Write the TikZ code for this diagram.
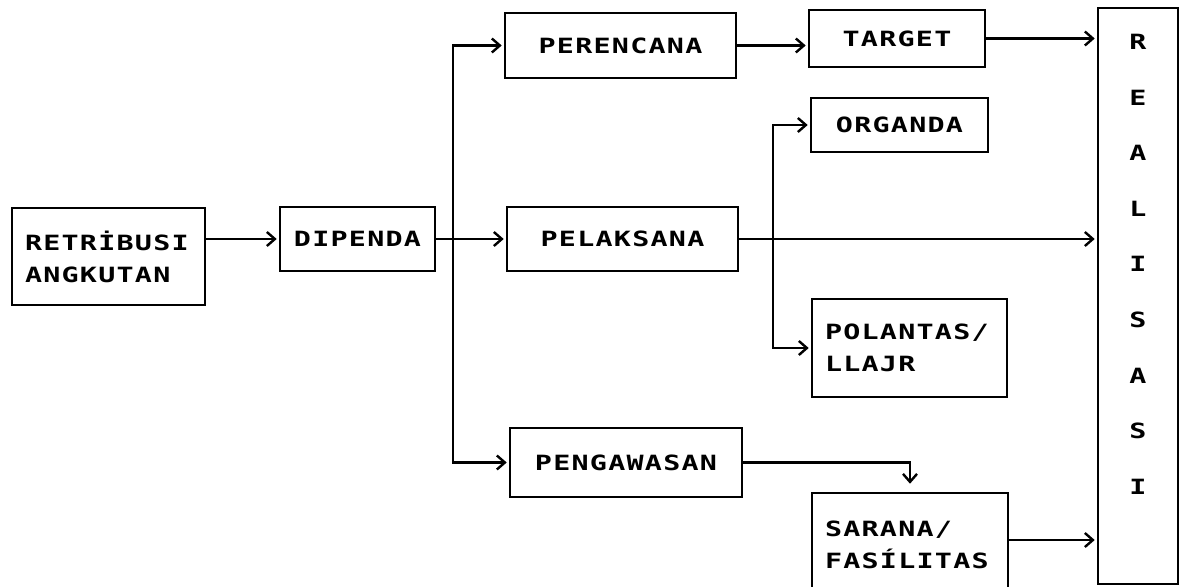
\documentclass[tikz,border=0pt]{standalone}
\usepackage{fontspec}
\usetikzlibrary{arrows.meta}
\newfontfamily\dotfont[FakeStretch=1.35,LetterSpace=6]{DejaVu Sans Mono}
\begin{document}
\begin{tikzpicture}[x=1pt,y=-1pt,
  box/.style={draw, line width=2.6pt, inner sep=0pt, font=\dotfont\bfseries\fontsize{21}{32}\selectfont},
  lab/.style={inner sep=0pt, font=\dotfont\bfseries\fontsize{21}{55.6}\selectfont},
  arr/.style={line width=2.6pt, -{Straight Barb[length=8pt,width=14pt,line width=2.4pt]}, shorten >=2pt},
  ln/.style={line width=2.6pt}]
\clip (0,0) rectangle (1188,586);
% boxes
\node[box, minimum width=193pt, minimum height=97pt, text width=167pt, align=left] (ret) at (108.5,256.5) {RETR\.IBUSI\\ANGKUTAN};
\node[box, minimum width=155pt, minimum height=64pt] (dip) at (357.5,239) {DIPENDA};
\node[box, minimum width=231pt, minimum height=65pt] (per) at (620.5,45.5) {PERENCANA};
\node[box, minimum width=231pt, minimum height=64pt] (pel) at (622.5,239) {PELAKSANA};
\node[box, minimum width=232pt, minimum height=69pt] (peng) at (626,462.5) {PENGAWASAN};
\node[box, minimum width=176pt, minimum height=57pt] (tar) at (897,38.5) {TARGET};
\node[box, minimum width=177pt, minimum height=54pt] (org) at (899.5,125) {ORGANDA};
\node[box, minimum width=195pt, minimum height=98pt, text width=169pt, align=left] (pol) at (909.5,348) {POLANTAS/\\LLAJR};
\node[box, minimum width=196pt, minimum height=104pt, text width=170pt, align=left] (sar) at (910,545) {SARANA/\\FAS\'ILITAS\\[12pt]};
\node[draw, line width=2.6pt, minimum width=80pt, minimum height=576pt] (real) at (1138,296) {};
\node[lab, anchor=north, align=center] (realt) at (1138,34) {R\\E\\A\\L\\I\\S\\A\\S\\I};
% junctions
\coordinate (j) at (453,239);
\coordinate (k) at (773,239);
% connectors
\draw[arr] (ret.east |- dip.west) -- (dip.west);
\draw[arr] (dip.east) -- (pel.west);
\draw[arr] (j) |- (per.west);
\draw[arr] (j) |- (peng.west);
\draw[arr] (per.east) -- (per.east -| tar.west);
\draw[arr] (tar.east) -- (tar.east -| real.west);
\draw[arr] (pel.east) -- (pel.east -| real.west);
\draw[arr] (k) |- (org.west);
\draw[arr] (k) |- (pol.west);
\draw[arr, shorten >=8pt] (peng.east) -| (sar.north);
\draw[arr] (sar.east |- 0,540) -- (real.west |- 0,540);
\end{tikzpicture}
\end{document}
